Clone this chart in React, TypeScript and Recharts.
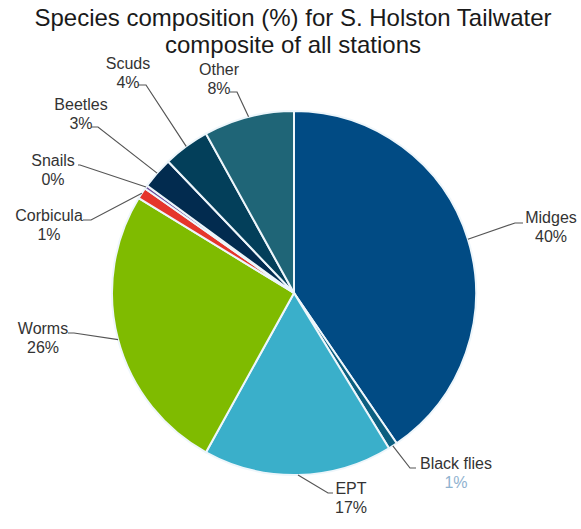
import React from 'react';
import { PieChart, Pie, Cell } from 'recharts';

// Species composition, clockwise from 12 o'clock
const categories = ['Midges', 'Black flies', 'EPT', 'Worms', 'Corbicula', 'Snails', 'Beetles', 'Scuds', 'Other'];
const percentages = [40.3, 0.8, 16.7, 25.6, 1.0, 0.3, 2.8, 4.1, 8.0];

const sliceColors = ['#014b84', '#0c5f80', '#3aafca', '#7fbb00', '#e5352b', '#6a4e9b', '#022b4f', '#033f5a', '#1f6577'];

// Label placement relative to the pie centre: text block centre, line end near text, elbow
const labelLayout = [
  { tx: 257, ty: -76, ex: 229, ey: -70, bx: 221, by: -70 },
  { tx: 162, ty: 170, ex: 122, ey: 175, bx: 116, by: 175 },
  { tx: 57, ty: 195, ex: 39, ey: 200, bx: 34, by: 200 },
  { tx: -251, ty: 35, ex: -226, ey: 40, bx: -220, by: 40 },
  { tx: -245, ty: -78, ex: -211, ey: -73, bx: -203, by: -73 },
  { tx: -241, ty: -133, ex: -216, ey: -128, bx: -214, by: -128 },
  { tx: -213, ty: -189, ex: -203, ey: -166, bx: -196, by: -166 },
  { tx: -166, ty: -230, ex: -156, ey: -208, bx: -148, by: -208 },
  { tx: -75, ty: -224, ex: -64, ey: -201, bx: -57, by: -201 },
];

const data = categories.map((name, i) => ({ name, value: percentages[i] }));

const RADIAN = Math.PI / 180;
const FONT = '"Liberation Sans", Arial, sans-serif';

const renderLabel = (props: any) => {
  const { cx, cy, midAngle, outerRadius, index } = props;
  const lay = labelLayout[index];
  const sx = cx + outerRadius * Math.cos(-midAngle * RADIAN);
  const sy = cy + outerRadius * Math.sin(-midAngle * RADIAN);
  const pctColor = categories[index] === 'Black flies' ? '#8fb2cf' : '#333333';
  return (
    <g key={`lbl-${index}`}>
      <polyline
        points={`${sx},${sy} ${cx + lay.bx},${cy + lay.by} ${cx + lay.ex},${cy + lay.ey}`}
        fill="none"
        stroke="#555555"
        strokeWidth={1.2}
      />
      <text x={cx + lay.tx} y={cy + lay.ty} textAnchor="middle" dominantBaseline="central"
        fontFamily={FONT} fontSize={16} fill="#333333">
        {categories[index]}
      </text>
      <text x={cx + lay.tx} y={cy + lay.ty + 19.5} textAnchor="middle" dominantBaseline="central"
        fontFamily={FONT} fontSize={16} fill={pctColor}>
        {`${Math.round(percentages[index])}%`}
      </text>
    </g>
  );
};

export default function App() {
  return (
    <div style={{ position: 'absolute', left: 0, top: 0, width: 581, height: 529, background: '#fff' }}>
      <div style={{
        position: 'absolute', left: 0, top: 4, width: 586, textAlign: 'center',
        fontFamily: FONT, fontSize: 24, lineHeight: '27px', color: '#1a1a1a',
      }}>
        Species composition (%) for S. Holston Tailwater<br />composite of all stations
      </div>
      <PieChart width={581} height={529} margin={{ top: 0, right: 0, bottom: 0, left: 0 }}>
        <Pie
          data={data}
          dataKey="value"
          nameKey="name"
          cx={294}
          cy={293}
          outerRadius={182}
          startAngle={90}
          endAngle={-270}
          stroke="#eef6fb"
          strokeWidth={2}
          label={renderLabel}
          labelLine={false}
          isAnimationActive={false}
        >
          {data.map((d, i) => (
            <Cell key={d.name} fill={sliceColors[i]} />
          ))}
        </Pie>
      </PieChart>
    </div>
  );
}
